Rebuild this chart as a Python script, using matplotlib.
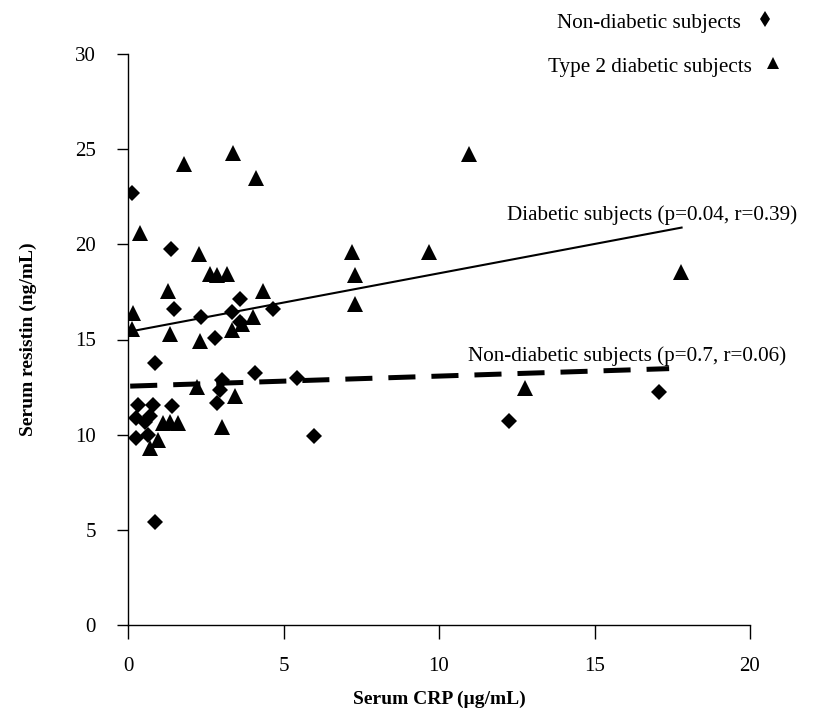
import matplotlib
matplotlib.use("Agg")
import matplotlib.pyplot as plt
from matplotlib.lines import Line2D

plt.rcParams['font.family'] = ['Liberation Serif', 'DejaVu Serif']
plt.rcParams['lines.scale_dashes'] = False

# Non-diabetic subjects (diamonds)
nd_crp = [0.12, 1.37, 3.60, 1.49, 4.67, 3.33, 2.35, 3.60, 2.80, 0.87, 3.01, 4.09,
          5.45, 2.96, 2.85, 0.33, 0.81, 1.40, 0.26, 0.71, 0.55, 0.26, 0.65, 0.87,
          5.99, 12.26, 17.07]
nd_res = [22.7, 19.77, 17.15, 16.62, 16.6, 16.45, 16.18, 15.92, 15.08, 13.79, 12.86, 13.22,
          12.98, 12.34, 11.64, 11.55, 11.55, 11.5, 10.85, 11.0, 10.67, 9.8, 9.97, 5.39,
          9.94, 10.71, 12.25]

# Type 2 diabetic subjects (triangles)
d_crp = [1.81, 3.39, 4.12, 0.39, 2.29, 2.64, 2.85, 3.19, 1.30, 4.35, 0.17, 4.03,
         0.12, 1.35, 3.33, 3.65, 2.32, 2.21, 3.44, 3.01, 1.14, 1.35, 1.62, 0.71,
         0.97, 7.19, 7.30, 7.30, 10.97, 9.68, 17.78, 12.77]
d_res = [24.2, 24.8, 23.5, 20.6, 19.5, 18.45, 18.4, 18.45, 17.55, 17.55, 16.4, 16.18,
         15.55, 15.3, 15.49, 15.8, 14.9, 12.51, 12.05, 10.41, 10.59, 10.67, 10.59, 9.28,
         9.71, 19.6, 18.37, 16.89, 24.76, 19.6, 18.55, 12.43]

# Regression lines (end points)
d_fit_x = [0.0, 17.8]
d_fit_y = [15.4, 20.88]
nd_fit_x = [0.07, 17.4]
nd_fit_y = [12.55, 13.47]

xticks = [0, 5, 10, 15, 20]
yticks = [0, 5, 10, 15, 20, 25, 30]

W, H = 815, 713
fig = plt.figure(figsize=(W / 100, H / 100), dpi=100)
ax = fig.add_axes([128 / W, (H - 625) / H, 622 / W, 571 / H])

ax.plot(d_fit_x, d_fit_y, color='black', lw=1.5, zorder=1)
ax.plot(nd_fit_x, nd_fit_y, color='black', lw=3.6, linestyle=(0, (19.5, 11.5)),
        solid_capstyle='butt', dash_capstyle='butt', zorder=1)

ax.plot(nd_crp, nd_res, linestyle='none', marker='D', ms=8.2, mfc='black',
        mec='black', mew=0, zorder=3)
ax.plot(d_crp, d_res, linestyle='none', marker='^', ms=11.5, mfc='black',
        mec='black', mew=0, zorder=3)

ax.set_xlim(0, 20)
ax.set_ylim(0, 30)
ax.set_xticks(xticks)
ax.set_yticks(yticks)
ax.spines['top'].set_visible(False)
ax.spines['right'].set_visible(False)
for s in ('left', 'bottom'):
    ax.spines[s].set_linewidth(1.0)
ax.tick_params(axis='x', direction='out', length=10, width=1.0, pad=13, labelsize=15)
ax.tick_params(axis='y', direction='out', length=8, width=1.0, pad=15, labelsize=15)

ax.set_xlabel('Serum CRP (µg/mL)', fontsize=14, fontweight='bold')
ax.xaxis.set_label_coords(0.5008, -0.131)
ax.xaxis.label.set_va('center')
ax.set_ylabel('Serum resistin (ng/mL)', fontsize=14, fontweight='bold')
ax.yaxis.set_label_coords(-0.161, 0.5)
ax.yaxis.label.set_va('center')

ax.text(12.19, 21.3, 'Diabetic subjects (p=0.04, r=0.39)', fontsize=15.2,
        ha='left', va='baseline')
ax.text(10.93, 13.86, 'Non-diabetic subjects (p=0.7, r=0.06)', fontsize=15.2,
        ha='left', va='baseline')

# Legend (text followed by marker)
fig.text(557 / W, 1 - 28 / H, 'Non-diabetic subjects', fontsize=15.2,
         ha='left', va='baseline')
fig.text(548 / W, 1 - 72 / H, 'Type 2 diabetic subjects', fontsize=15.2,
         ha='left', va='baseline')
fig.add_artist(Line2D([765 / W], [1 - 19 / H], transform=fig.transFigure,
                      marker='d', ms=8.5, mfc='black', mec='black', mew=0,
                      linestyle='none'))
fig.add_artist(Line2D([773 / W], [1 - 63 / H], transform=fig.transFigure,
                      marker='^', ms=8.5, mfc='black', mec='black', mew=0,
                      linestyle='none'))

fig.savefig('out.png', dpi=100, facecolor='white')
